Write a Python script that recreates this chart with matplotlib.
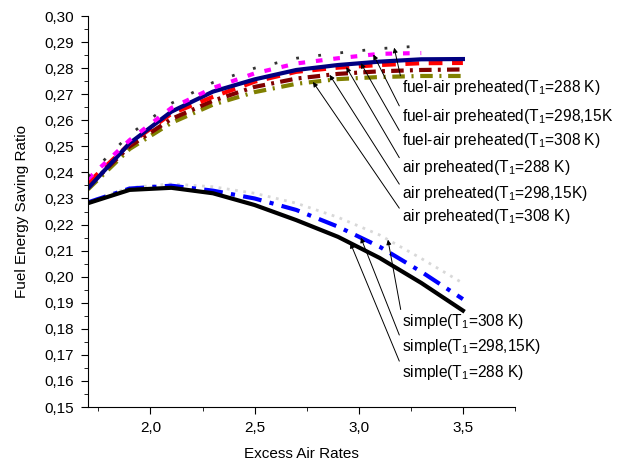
import numpy as np
import matplotlib
matplotlib.use('Agg')
import matplotlib.pyplot as plt
from matplotlib.ticker import MultipleLocator, FuncFormatter

plt.rcParams['font.family'] = ['Liberation Sans', 'DejaVu Sans']
plt.rcParams['mathtext.fontset'] = 'custom'
plt.rcParams['mathtext.rm'] = 'Liberation Sans'

# Excess air rates
x = [1.7, 1.9, 2.1, 2.3, 2.5, 2.7, 2.9, 3.1, 3.3, 3.5]
x_short = x[:9]

# fuel-air preheated
fa_288 = [0.2385, 0.2545, 0.2665, 0.2745, 0.2800, 0.2838, 0.2858, 0.2875, 0.2885]
fa_298 = [0.2375, 0.2524, 0.2647, 0.2724, 0.2780, 0.2818, 0.2838, 0.2855, 0.2858]
fa_308 = [0.2339, 0.2512, 0.2633, 0.2710, 0.2757, 0.2793, 0.2812, 0.2825, 0.2834, 0.2835]

# air preheated
a_288 = [0.2360, 0.2510, 0.2625, 0.2690, 0.2748, 0.2786, 0.2802, 0.2812, 0.2819, 0.2820]
a_298 = [0.2345, 0.2500, 0.2605, 0.2675, 0.2728, 0.2760, 0.2778, 0.2788, 0.2793, 0.2795]
a_308 = [0.2335, 0.2490, 0.2590, 0.2660, 0.2708, 0.2740, 0.2758, 0.2766, 0.2770, 0.2770]

# simple
s_288 = [0.2282, 0.2333, 0.2341, 0.2320, 0.2275, 0.2217, 0.2153, 0.2072, 0.1976, 0.1870]
s_298 = [0.2285, 0.2338, 0.2349, 0.2330, 0.2300, 0.2256, 0.2192, 0.2115, 0.2019, 0.1914]
s_308 = [0.2287, 0.2342, 0.2356, 0.2345, 0.2320, 0.2282, 0.2228, 0.2160, 0.2070, 0.1975]

fig = plt.figure(figsize=(6.2, 4.66), dpi=100)
ax = fig.add_axes([0.1419, 0.1266, 0.6887, 0.839])

ax.plot(x, s_308, color='#d8d8d8', lw=2, ls=(0, (1, 2)))
ax.plot(x, s_298, color='#0000ff', lw=3, ls=(0, (4.5, 2, 1, 2)))
ax.plot(x, s_288, color='black', lw=3)

ax.plot(x, a_308, color='#808000', lw=3, ls=(0, (3, 1.6, 0.5, 1.6)))
ax.plot(x, a_298, color='#800000', lw=3, ls=(0, (3, 1.5, 0.7, 1.5)))
ax.plot(x, a_288, color='#ff0000', lw=3, ls=(0, (3.3, 2.3)))
ax.plot(x, fa_308, color='#000080', lw=3)
ax.plot(x_short, fa_298, color='#ff00ff', lw=3, ls=(0, (1.6, 2.6)))
ax.plot(x_short, fa_288, color='#333333', lw=2, ls=(0, (1, 7)))

# labels with arrows: (series x, series y, tip x, label, text x, text y)
labels = [
    (x_short, fa_288, 3.17, 'fuel-air preheated(T$\\mathregular{_1}$=288 K)', 3.208, 0.2724),
    (x_short, fa_298, 3.07, 'fuel-air preheated(T$\\mathregular{_1}$=298,15K', 3.208, 0.2616),
    (x, fa_308, 3.01, 'fuel-air preheated(T$\\mathregular{_1}$=308 K)', 3.208, 0.2524),
    (x, a_288, 2.94, 'air preheated(T$\\mathregular{_1}$=288 K)', 3.208, 0.2420),
    (x, a_298, 2.86, 'air preheated(T$\\mathregular{_1}$=298,15K)', 3.208, 0.2320),
    (x, a_308, 2.78, 'air preheated(T$\\mathregular{_1}$=308 K)', 3.208, 0.2229),
    (x, s_308, 3.14, 'simple(T$\\mathregular{_1}$=308 K)', 3.208, 0.1827),
    (x, s_298, 3.01, 'simple(T$\\mathregular{_1}$=298,15K)', 3.208, 0.1731),
    (x, s_288, 2.96, 'simple(T$\\mathregular{_1}$=288 K)', 3.208, 0.1632),
]
for xs, ys, tx, txt, lx, ly in labels:
    ty = np.interp(tx, xs, ys)
    ax.annotate(txt, xy=(tx, ty), xytext=(lx, ly), fontsize=11.2,
                ha='left', va='center',
                arrowprops=dict(arrowstyle='-|>', color='black', lw=0.7,
                                mutation_scale=7, shrinkA=0, shrinkB=0,
                                relpos=(0, 0.75)))

ax.set_xlim(1.7, 3.75)
ax.set_ylim(0.15, 0.30)
ax.xaxis.set_major_locator(MultipleLocator(0.5))
ax.xaxis.set_minor_locator(MultipleLocator(0.25))
ax.yaxis.set_major_locator(MultipleLocator(0.01))
ax.yaxis.set_minor_locator(MultipleLocator(0.005))
ax.xaxis.set_major_formatter(FuncFormatter(lambda v, p: ('%.1f' % v).replace('.', ',')))
ax.yaxis.set_major_formatter(FuncFormatter(lambda v, p: ('%.2f' % v).replace('.', ',')))
ax.tick_params(which='both', direction='out', labelsize=11)
ax.tick_params(which='major', length=5, pad=5)
ax.tick_params(which='minor', length=3)
ax.spines['top'].set_visible(False)
ax.spines['right'].set_visible(False)

ax.set_xlabel('Excess Air Rates', fontsize=11, labelpad=9)
ax.set_ylabel('Fuel Energy Saving Ratio', fontsize=11, labelpad=11)

fig.savefig('out.png', dpi=100)
